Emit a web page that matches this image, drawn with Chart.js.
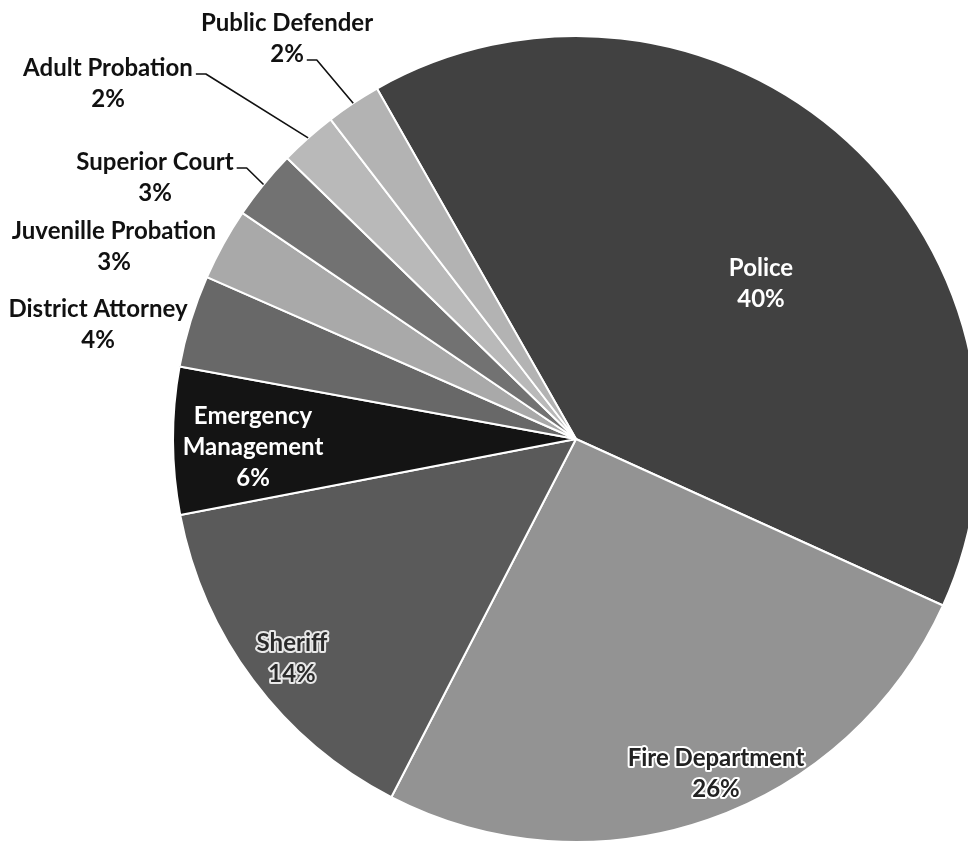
<!DOCTYPE html>
<html>
<head>
<meta charset="utf-8">
<title>Budget share by department</title>
<script src="https://cdn.jsdelivr.net/npm/chart.js@4/dist/chart.umd.min.js"></script>
<style>
    html, body { margin: 0; padding: 0; background: #ffffff; overflow: hidden; }
    #wrap { position: absolute; left: 0; top: 0; width: 1000px; height: 846px; }
</style>
</head>
<body>
<div id="wrap"><canvas id="pie-chart" width="1000" height="846"></canvas></div>
<script>
// Departments, clockwise from the Police slice
var departments = ['Police', 'Fire Department', 'Sheriff', 'Emergency Management', 'District Attorney',
    'Juvenille Probation', 'Superior Court', 'Adult Probation', 'Public Defender'];
var shares = [40.0, 25.8, 14.4, 5.9, 3.7, 2.9, 2.8, 2.3, 2.2];
var labelLines = [['Police'], ['Fire Department'], ['Sheriff'], ['Emergency', 'Management'], ['District Attorney'],
    ['Juvenille Probation'], ['Superior Court'], ['Adult Probation'], ['Public Defender']];

(function() {
    'use strict';

    var greys = ['#414141', '#939393', '#5a5a5a', '#141414', '#686868', '#a9a9a9', '#727272', '#b9b9b9', '#b3b3b3'];

    // label block position (center of first line), text style and leader line
    var labelLayout = [
        { x: 761, y: 268, fill: '#ffffff', halo: null, leader: null },
        { x: 716, y: 758, fill: '#222222', halo: '#ffffff', leader: null },
        { x: 292, y: 643, fill: '#2a2a2a', halo: '#e8e8e8', leader: null },
        { x: 253, y: 416, fill: '#ffffff', halo: null, leader: null },
        { x: 98, y: 309, fill: '#111111', halo: null, leader: null },
        { x: 114, y: 231, fill: '#111111', halo: null, leader: null },
        { x: 155, y: 162, fill: '#111111', halo: null, leader: 0 },
        { x: 108, y: 68, fill: '#111111', halo: null, leader: 0 },
        { x: 287, y: 23, fill: '#111111', halo: null, leader: 1 }
    ];

    var FONT = 'bold 24px Lato, "Open Sans", sans-serif';
    var LINE_H = 31;

    /**
     * Draw labels and leader lines
     */
    var labelPlugin = {
        id: 'sliceLabels',
        afterDatasetsDraw: function(chart) {
            var ctx = chart.ctx;
            var arcs = chart.getDatasetMeta(0).data;
            ctx.save();
            ctx.font = FONT;
            ctx.textAlign = 'center';
            ctx.textBaseline = 'middle';
            ctx.lineJoin = 'round';

            arcs.forEach(function(arc, i) {
                var lay = labelLayout[i];
                var lines = labelLines[i].concat([Math.round(shares[i]) + '%']);

                lines.forEach(function(txt, k) {
                    var ly = lay.y + k * LINE_H;
                    if (lay.halo) {
                        ctx.strokeStyle = lay.halo;
                        ctx.lineWidth = 4;
                        ctx.strokeText(txt, lay.x, ly);
                    }
                    ctx.fillStyle = lay.fill;
                    ctx.fillText(txt, lay.x, ly);
                });

                if (lay.leader !== null) {
                    var p = arc.getProps(['x', 'y', 'startAngle', 'endAngle', 'outerRadius'], true);
                    var mid = (p.startAngle + p.endAngle) / 2;
                    var ex = p.x + Math.cos(mid) * p.outerRadius;
                    var ey = p.y + Math.sin(mid) * p.outerRadius;
                    var w = ctx.measureText(lines[lay.leader]).width;
                    var sx = lay.x + w / 2 + 3;
                    var sy = lay.y + lay.leader * LINE_H + 6;

                    ctx.strokeStyle = '#111111';
                    ctx.lineWidth = 1.6;
                    ctx.beginPath();
                    ctx.moveTo(sx, sy);
                    ctx.lineTo(sx + 10, sy);
                    ctx.lineTo(ex, ey);
                    ctx.stroke();
                }
            });
            ctx.restore();
        }
    };

    var ctx = document.getElementById('pie-chart');
    new Chart(ctx, {
        type: 'pie',
        data: {
            labels: departments,
            datasets: [{
                data: shares,
                backgroundColor: greys,
                borderColor: '#ffffff',
                borderWidth: 2
            }]
        },
        options: {
            responsive: false,
            animation: false,
            rotation: -29.6,
            layout: {
                padding: { left: 172, right: 20, top: 35, bottom: 3 }
            },
            plugins: {
                legend: { display: false },
                tooltip: { enabled: false }
            }
        },
        plugins: [labelPlugin]
    });
})();
</script>
</body>
</html>
